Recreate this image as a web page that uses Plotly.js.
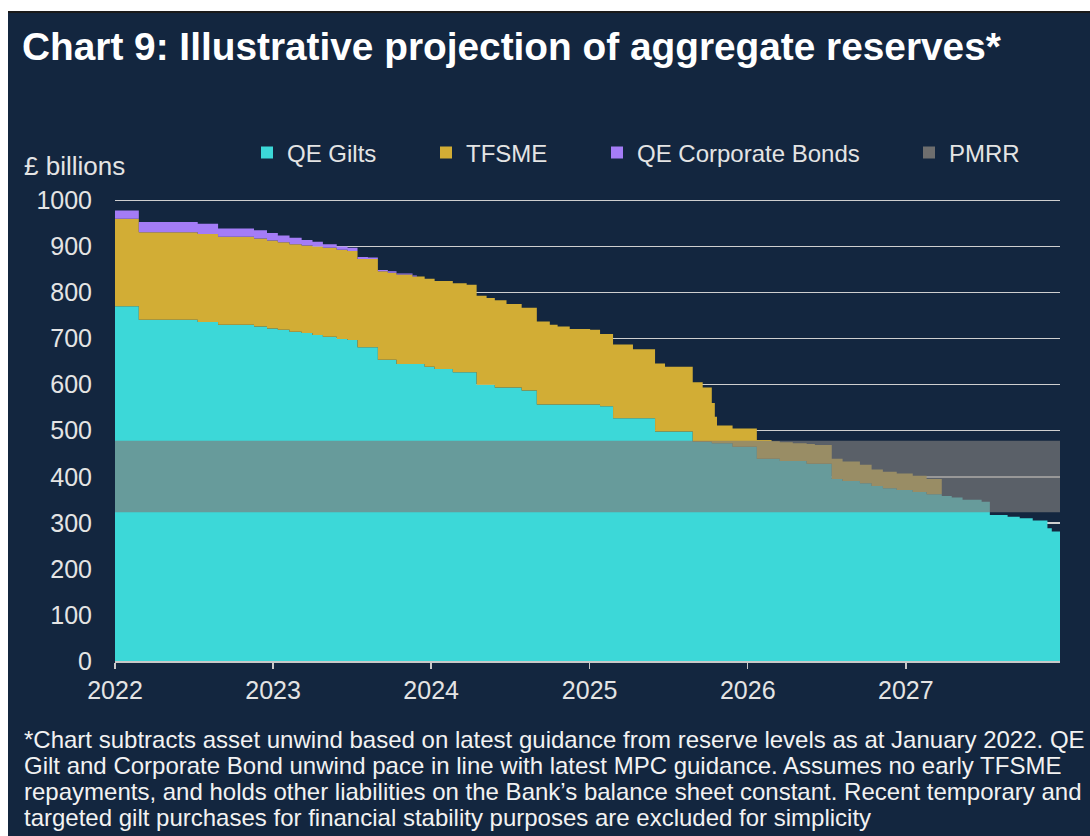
<!DOCTYPE html>
<html><head><meta charset="utf-8">
<script src="https://cdn.plot.ly/plotly-3.0.1.min.js"></script>
<style>
html,body{margin:0;padding:0;background:#fff;width:1090px;height:836px;overflow:hidden;}
#chart{position:absolute;left:8px;top:12px;width:1082px;height:824px;}
#topline{position:absolute;left:8px;top:11px;width:1082px;height:2px;background:#1a1a1a;}
</style></head><body>
<div id="chart"></div><div id="topline"></div>
<script>
// Step dates (start of each step); last entry = end of projection
const dates = ['2022-01-01','2022-02-25','2022-07-11','2022-08-27','2022-11-18','2022-12-18',
 '2023-01-12','2023-02-08','2023-03-08','2023-04-02','2023-04-26','2023-05-28','2023-06-22','2023-07-15',
 '2023-08-08','2023-08-31','2023-09-23','2023-10-13','2023-11-19','2023-11-29','2023-12-17',
 '2024-01-09','2024-02-20','2024-03-23','2024-04-15','2024-05-08','2024-05-27','2024-06-23','2024-07-28',
 '2024-09-01','2024-10-01','2024-10-19','2024-11-16','2025-01-02','2025-01-25','2025-02-24','2025-04-11',
 '2025-06-01','2025-06-24','2025-08-27','2025-09-19','2025-10-10','2025-10-17','2025-10-22','2025-11-27',
 '2026-01-22','2026-02-25','2026-03-16','2026-04-15','2026-05-17','2026-06-05','2026-07-14','2026-08-08',
 '2026-09-17','2026-10-14','2026-11-09','2026-12-11','2027-01-17','2027-02-18','2027-03-25','2027-04-17',
 '2027-05-12','2027-06-25','2027-07-14','2027-08-24','2027-09-21','2027-10-21','2027-11-24','2027-12-04',
 '2027-12-23'];
// £ billions
const qeGilts = [770,741,736,730,726,722,
 719,715,712,708,704,699,697,681,
 681,654,654,645,645,645,639,
 634,627,627,600,600,594,594,587,
 557,557,557,557,557,553,527,527,
 498,498,476,476,473,473,473,465,
 439,439,434,434,428,428,395,391,
 386,380,375,371,367,362,358,355,
 350,346,317,313,310,305,288,281,
 281];
const tfsme = [190,190,191,191,191,191,
 190,190,190,192,193,194,193,192,
 192,192,189,194,190,190,191,
 191,193,190,193,188,189,181,180,
 180,173,169,164,162,157,160,150,
 148,141,129,118,87,57,38,40,
 41,38,41,39,43,41,44,42,
 40,36,36,36,35,33,0,0,
 0,0,0,0,0,0,0,0,
 0];
const qeCorpBonds = [18,22,22,18,18,16,
 15,14,12,10,8,7,7,4,
 3,3,3,2,2,0,0,
 0,0,0,0,0,0,0,0,
 0,0,0,0,0,0,0,0,
 0,0,0,0,0,0,0,0,
 0,0,0,0,0,0,0,0,
 0,0,0,0,0,0,0,0,
 0,0,0,0,0,0,0,0,
 0];
const pmrrRange = [323, 478];
const seriesNames = ['QE Gilts','TFSME','QE Corporate Bonds','PMRR'];
const yTickVals = [0,100,200,300,400,500,600,700,800,900,1000];
const xTickLabels = ['2022','2023','2024','2025','2026','2027'];
const footnoteLines = [
 '*Chart subtracts asset unwind based on latest guidance from reserve levels as at January 2022. QE',
 'Gilt and Corporate Bond unwind pace in line with latest MPC guidance. Assumes no early TFSME',
 'repayments, and holds other liabilities on the Bank\u2019s balance sheet constant. Recent temporary and',
 'targeted gilt purchases for financial stability purposes are excluded for simplicity'
];

const NAVY = '#13263f';
const CYAN = '#3cd8d8';
const GOLD = '#d2ad35';
const PURPLE = '#a47cf6';
const BAND = 'rgba(126,126,126,0.67)';
const BAND_LEG = '#6e6e6e';
const FONT = '"Liberation Sans", Arial, sans-serif';
const TXT = '#e4e4e4';

const topT = qeGilts.map((v,i)=>v+tfsme[i]);
const topC = topT.map((v,i)=>v+qeCorpBonds[i]);
const xExt = [dates[0], dates[dates.length-1]];

const base = {x: dates, mode:'lines', line:{width:0, shape:'hv'}, hoverinfo:'skip', showlegend:false};
const traces = [
 Object.assign({}, base, {y: qeGilts, fill:'tozeroy', fillcolor: CYAN, name: seriesNames[0]}),
 Object.assign({}, base, {y: topT, fill:'tonexty', fillcolor: GOLD, name: seriesNames[1]}),
 Object.assign({}, base, {y: topC, fill:'tonexty', fillcolor: PURPLE, name: seriesNames[2]}),
 {x: xExt, y: [pmrrRange[0], pmrrRange[0]], mode:'lines', line:{width:0}, hoverinfo:'skip', showlegend:false},
 {x: xExt, y: [pmrrRange[1], pmrrRange[1]], mode:'lines', line:{width:0}, fill:'tonexty', fillcolor: BAND, hoverinfo:'skip', showlegend:false, name: seriesNames[3]}
];
const legColors = [CYAN, GOLD, PURPLE, BAND_LEG];
const legKeys = ['legend','legend2','legend3','legend4'];
seriesNames.forEach((n,i)=>{
  traces.push({x:[null], y:[null], mode:'markers', name:n, legend: legKeys[i],
    marker:{symbol:'square', size:12, color: legColors[i]}, hoverinfo:'skip'});
});

// legend left edges (page px) converted to paper fraction
const legLeftPx = [247, 426, 597, 909];
const W = 945, H = 462;
const YMAX = 1003;
const layout = {
  width:1082, height:824,
  margin:{l:107, r:30, t:187, b:175},
  paper_bgcolor: NAVY, plot_bgcolor: NAVY,
  font:{family: FONT, color: TXT, size: 24},
  title:{text:'<b>Chart 9: Illustrative projection of aggregate reserves*</b>',
    font:{family: FONT, size:38.8, color:'#ffffff'},
    xref:'container', x: 14/1082, xanchor:'left', yref:'container', y: 1-34/824, yanchor:'middle'},
  xaxis:{type:'date', range: xExt, tickvals: xTickLabels.map(y=>y+'-01-01'), ticktext: xTickLabels,
    showgrid:false, zeroline:false, showline:true, linecolor:'#c8c8c8', linewidth:2,
    ticks:'outside', ticklen:6, tickwidth:1.5, tickcolor:'#c8c8c8',
    tickfont:{family: FONT, size:25, color: TXT}, fixedrange:true},
  yaxis:{range:[0,YMAX], tickvals: yTickVals, showgrid:true, gridcolor:'#cfcfcf', gridwidth:1.5,
    zeroline:false, showline:false, ticks:'outside', ticklen:17, tickcolor:'rgba(0,0,0,0)',
    tickfont:{family: FONT, size:25, color: TXT}, fixedrange:true},
  annotations: [
    {text:'£ billions', xref:'paper', yref:'paper', x:(14-107)/W, y:(649-154)/H, xanchor:'left', yanchor:'middle',
     showarrow:false, font:{family: FONT, size:26, color: TXT}}
  ].concat(footnoteLines.map((t,i)=>({text:t, xref:'paper', yref:'paper', x:(14-107)/W, y:(649-(727+26*i))/H,
     xanchor:'left', yanchor:'middle', showarrow:false, font:{family: FONT, size:24, color:'#f2f2f2'}}))),
  showlegend:true
};
legKeys.forEach((k,i)=>{
  layout[k] = {orientation:'h', x:(legLeftPx[i]-115)/W, xanchor:'left', y:(649-141)/H, yanchor:'middle',
    bgcolor:'rgba(0,0,0,0)', borderwidth:0, font:{family: FONT, size:24, color: TXT}};
});
Plotly.newPlot('chart', traces, layout, {staticPlot:true, displayModeBar:false});
</script>
</body></html>
